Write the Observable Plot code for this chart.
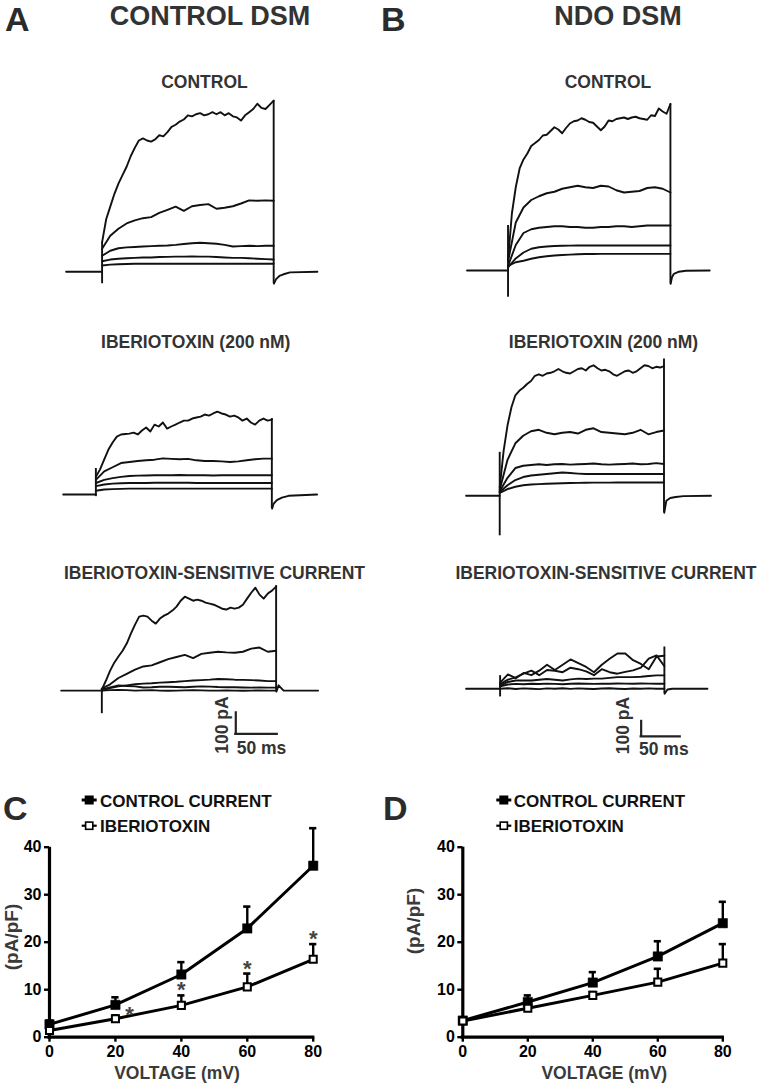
<!DOCTYPE html>
<html><head><meta charset="utf-8">
<script src="https://cdn.jsdelivr.net/npm/d3@7"></script>
<script src="https://cdn.jsdelivr.net/npm/@observablehq/plot@0.6"></script>
<style>
html,body{margin:0;padding:0;background:#fff;}
#fig{position:relative;width:766px;height:1086px;overflow:hidden;background:#fff;}
#fig svg{position:absolute;overflow:visible;}
</style></head><body><div id="fig"></div>
<script>
// ---------------- DATA ----------------
const STEP_MS = 210;                       // duration of the voltage step (ms)
const tFine = d3.range(0, 211, 5);         // sample times (ms) for the largest traces
const tCoarse = d3.range(0, 211, 10);      // sample times (ms) for the smaller traces
const SCALE_PA = 100, SCALE_MS = 50;       // scale bar sizes
const scaleBarText = ["100 pA", "50 ms"];

// Panel A, control DSM — whole-cell currents (pA)
const aCtrl1 = [140,250,310,370,420,460,500,550,590,625,635,625,620,630,650,645,665,690,700,715,725,745,740,750,755,745,750,760,750,760,745,755,740,735,720,745,760,775,800,780,775,795,815];
const aCtrl2 = [110,171,205,230,245,255,260,280,295,310,290,312,318,322,300,305,312,325,340,338,340,338];
const aCtrl3 = [76,100,112,116,118,120,122,124,125,128,132,136,138,136,133,128,120,122,124,122,124,124];
const aCtrl4 = [50,58,62,64,66,68,68,70,71,72,72,73,72,72,70,68,66,66,64,62,60,58];
const aCtrl5 = [30,34,36,37,38,38,38,38,38,38,38,38,38,38,38,38,38,38,38,38,38,38];
const aCtrlEdges = [-57, 140, -57, 815];   // onset low/high, offset low/high
const aCtrlTailT = [210.3, 213, 217, 222, 230, 263.5];
const aCtrlTailI = [-57, -35, -20, -12, -3, 0];

const aIbtx1 = [84,120,167,214,248,276,286,288,290,295,286,305,319,300,333,324,343,314,324,333,343,352,352,362,367,371,381,376,386,395,386,381,371,376,367,352,362,343,333,352,362,352,357];
const aIbtx2 = [70,110,130,150,155,160,163,166,172,170,168,170,163,160,160,158,155,158,163,168,171,171];
const aIbtx3 = [55,70,78,84,88,90,91,92,92,92,93,92,92,92,91,92,92,92,92,92,92,92];
const aIbtx4 = [40,48,52,54,55,55,55,56,56,56,56,56,55,55,55,55,55,55,55,55,55,55];
const aIbtx5 = [18,24,26,27,28,28,28,28,28,28,28,28,28,28,28,28,28,28,28,28,28,28];
const aIbtxEdges = [-10, 124, -67, 362];
const aIbtxTailT = [210.3, 212, 216, 222, 230, 264];
const aIbtxTailI = [-67, -45, -27, -15, -6, 0];

const aDiff1 = [5,48,95,133,162,190,224,271,314,352,357,352,333,319,343,357,367,381,400,428,447,438,428,433,428,419,414,409,400,390,386,395,390,395,409,438,466,490,457,438,462,476,495];
const aDiff2 = [10,30,60,80,100,115,120,135,150,160,170,155,175,180,185,182,180,185,200,205,185,190];
const aDiff3 = [0,12,20,25,30,33,35,38,40,42,45,48,50,52,55,54,52,51,50,48,45,45];
const aDiff4 = [5,15,25,22,20,15,16,18,18,17,16,18,20,19,17,16,16,15,14,15,14,14];
const aDiff5 = [0,2,3,2,0,1,2,0,-1,0,1,2,1,0,0,1,0,-1,0,1,0,0];
const aDiffEdges = [-110, 10, -5, 500];
const aDiffTailT = [210.3, 213, 219, 260.6];
const aDiffTailI = [-5, 25, 0, 0];

// Panel B, NDO DSM
const bCtrl1 = [67,380,555,680,740,780,830,850,870,900,905,930,955,940,915,950,980,995,1000,1015,1005,990,985,960,935,960,1000,995,1010,1015,1020,1010,1020,1025,1015,1010,1005,1035,1030,1080,1060,1045,1110];
const bCtrl2 = [60,320,420,470,495,515,525,545,555,565,555,550,565,560,535,520,525,530,550,555,545,520];
const bCtrl3 = [30,170,250,275,285,290,295,295,290,290,285,285,290,290,295,295,290,295,300,300,300,300];
const bCtrl4 = [20,80,120,145,155,160,163,165,166,167,167,167,167,167,167,167,167,167,167,167,167,167];
const bCtrl5 = [30,55,65,78,88,95,100,103,106,108,110,110,111,111,111,111,111,111,111,111,111,111];
const bCtrlEdges = [-178, 300, -89, 1110];
const bCtrlTailT = [210.3, 212, 214.5, 221, 230, 260.8];
const bCtrlTailI = [-89, -45, -22, -8, -2, 0];

const bIbtx1 = [55,300,470,590,670,700,720,745,765,800,810,800,815,820,830,845,830,820,815,830,845,850,835,860,870,850,835,840,830,810,800,815,830,835,820,830,850,870,865,850,860,855,865];
const bIbtx2 = [40,240,350,400,430,440,420,410,420,425,415,440,450,425,420,415,410,420,440,410,425,435];
const bIbtx3 = [30,120,185,200,205,210,205,210,212,208,210,212,215,210,208,210,212,215,210,212,218,212];
const bIbtx4 = [25,70,105,125,135,140,145,150,155,152,148,145,145,145,145,145,145,145,145,145,145,145];
const bIbtx5 = [20,45,60,70,75,78,80,82,84,85,86,87,88,88,88,89,89,89,89,89,89,89];
const bIbtxEdges = [-267, 290, -113, 912];
const bIbtxTailT = [210.3, 213, 218, 225, 235, 270];
const bIbtxTailI = [-113, -33, -15, -8, -2, 0];

const bDiff1 = [40,95,70,105,90,120,160,125,160,195,170,145,110,160,200,235,235,190,165,130,215,220];
const bDiff2 = [30,60,75,100,120,90,125,120,110,140,130,115,90,130,110,100,112,122,140,200,222,150];
const bDiff3 = [20,45,55,55,55,60,65,60,55,62,67,65,67,67,72,77,77,77,80,85,89,89];
const bDiff4 = [15,28,32,30,33,31,34,32,30,33,35,33,32,34,33,35,34,33,35,34,33,33];
const bDiff5 = [0,3,-2,2,0,-3,2,0,3,-1,2,0,-2,1,3,0,-2,1,0,2,0,0];
const bDiffEdges = [-55, 87, -33, 278];
const bDiffTailT = [210.3, 214, 220, 265];
const bDiffTailI = [-33, -5, 0, 0];

// Panels C and D — current density (pA/pF) vs voltage (mV), mean and SEM
const voltage = [0, 20, 40, 60, 80];
const xTicks = [0, 20, 40, 60, 80];
const yTicks = [0, 10, 20, 30, 40];
const cCtrlMean = [2.7, 6.8, 13.2, 22.9, 36.1];
const cCtrlSem  = [0.8, 1.6, 2.6, 4.6, 7.9];
const cIbtxMean = [1.4, 3.9, 6.7, 10.6, 16.4];
const cIbtxSem  = [0.6, 0.7, 2.1, 2.8, 3.2];
const cSig      = ["", "*", "*", "*", "*"];
const dCtrlMean = [3.5, 7.4, 11.5, 17.0, 24.0];
const dCtrlSem  = [0.6, 1.4, 2.2, 3.2, 4.5];
const dIbtxMean = [3.4, 6.1, 8.8, 11.6, 15.6];
const dIbtxSem  = [0.5, 0.6, 0.7, 2.8, 4.0];
const dSig      = ["", "", "", "", ""];
const legendLabels = ["CONTROL CURRENT", "IBERIOTOXIN"];

// ---------------- LAYOUT / STYLE ----------------
const FONT = '"Liberation Sans", Arial, Helvetica, sans-serif';
const INK = "#111";
const SW = 1.9;
const KY_A = 0.21, KY_B = 0.15;   // px per pA
const fig = document.getElementById("fig");

function place(el, left, top) {
  el.style.position = "absolute";
  el.style.left = left + "px";
  el.style.top = top + "px";
  fig.appendChild(el);
}

function tracePanel(p) {
  const kx = (p.endPx - p.onsetPx) / STEP_MS;
  const rows = [];
  p.traces.forEach((vals, k) => {
    const ts = vals.length === tFine.length ? tFine : tCoarse;
    vals.forEach((v, j) => rows.push({trace: k, t: ts[j], i: v}));
  });
  const base = [{t: p.preT, i: 0}, {t: 0, i: 0}];
  const tail = p.tailT.map((t, j) => ({t, i: p.tailI[j]}));
  const allI = rows.map(d => d.i).concat(p.edges, p.tailI);
  let lo = d3.min(allI) - 10, hi = d3.max(allI) + 10;
  if (p.scaleBar) lo = Math.min(lo, p.scaleBar.i0 - 10);
  const x0 = p.preT - 2, x1 = d3.max(p.tailT) + 2;
  const width = (x1 - x0) * kx, height = (hi - lo) * p.ky;
  const marks = [
    Plot.line(base, {x: "t", y: "i", stroke: INK, strokeWidth: SW}),
    Plot.line(tail, {x: "t", y: "i", stroke: INK, strokeWidth: SW}),
    Plot.ruleX([0], {y1: p.edges[0], y2: p.edges[1], stroke: INK, strokeWidth: SW}),
    Plot.ruleX([STEP_MS], {y1: p.edges[2], y2: p.edges[3], stroke: INK, strokeWidth: SW}),
    Plot.line(rows, {x: "t", y: "i", z: "trace", stroke: INK, strokeWidth: SW, strokeLinejoin: "round"})
  ];
  if (p.scaleBar) {
    const sb = [p.scaleBar];
    marks.push(Plot.ruleX(sb, {x: "t0", y1: "i0", y2: d => d.i0 + SCALE_PA, stroke: "#222", strokeWidth: 2.2, strokeLinecap: "square"}));
    marks.push(Plot.ruleY(sb, {y: "i0", x1: "t0", x2: d => d.t0 + SCALE_MS, stroke: "#222", strokeWidth: 2.2, strokeLinecap: "square"}));
  }
  const svg = Plot.plot({
    width, height, margin: 0,
    x: {domain: [x0, x1], axis: null},
    y: {domain: [lo, hi], axis: null},
    style: {overflow: "visible", background: "transparent"},
    marks
  });
  place(svg, p.onsetPx + x0 * kx, p.basePx - hi * p.ky);
}

const panels = [
  {onsetPx: 101.7, endPx: 273.3, basePx: 271,   ky: KY_A, preT: -44, traces: [aCtrl1, aCtrl2, aCtrl3, aCtrl4, aCtrl5], edges: aCtrlEdges, tailT: aCtrlTailT, tailI: aCtrlTailI},
  {onsetPx: 95.7,  endPx: 271.7, basePx: 494.3, ky: KY_A, preT: -39, traces: [aIbtx1, aIbtx2, aIbtx3, aIbtx4, aIbtx5], edges: aIbtxEdges, tailT: aIbtxTailT, tailI: aIbtxTailI},
  {onsetPx: 101.7, endPx: 276,   basePx: 690,   ky: KY_A, preT: -49, traces: [aDiff1, aDiff2, aDiff3, aDiff4, aDiff5], edges: aDiffEdges, tailT: aDiffTailT, tailI: aDiffTailI, scaleBar: {t0: 161.4, i0: -206}},
  {onsetPx: 507.3, endPx: 669.7, basePx: 270,   ky: KY_B, preT: -53, traces: [bCtrl1, bCtrl2, bCtrl3, bCtrl4, bCtrl5], edges: bCtrlEdges, tailT: bCtrlTailT, tailI: bCtrlTailI},
  {onsetPx: 499.7, endPx: 664,   basePx: 495,   ky: KY_B, preT: -43, traces: [bIbtx1, bIbtx2, bIbtx3, bIbtx4, bIbtx5], edges: bIbtxEdges, tailT: bIbtxTailT, tailI: bIbtxTailI},
  {onsetPx: 499.7, endPx: 664,   basePx: 688.3, ky: KY_B, preT: -43.5, traces: [bDiff1, bDiff2, bDiff3, bDiff4, bDiff5], edges: bDiffEdges, tailT: bDiffTailT, tailI: bDiffTailI, scaleBar: {t0: 180.3, i0: -318}}
];
panels.forEach(tracePanel);

function ivPlot(cfg) {
  const rows = voltage.map((v, k) => ({
    v, ctrl: cfg.ctrl[k], ctrlSem: cfg.ctrlSem[k], ibtx: cfg.ibtx[k], ibtxSem: cfg.ibtxSem[k], sig: cfg.sig[k]
  }));
  const width = cfg.width, height = 286;
  const svg = Plot.plot({
    width, height,
    marginLeft: cfg.x0Px - cfg.left, marginRight: width - (cfg.x80Px - cfg.left),
    marginTop: 846.7 - 800, marginBottom: 1086 - 1036.7,
    x: {domain: [0, 80], axis: null},
    y: {domain: [0, 40], axis: null},
    style: {overflow: "visible", background: "transparent", fontFamily: FONT, fontWeight: "bold", fontSize: "16px", color: "#000"},
    marks: [
      Plot.axisY({ticks: yTicks, tickSize: 5, tickPadding: 3, strokeWidth: 2.4, label: null, tickFormat: d => String(d)}),
      Plot.axisX({ticks: xTicks, tickSize: 5, tickPadding: 3, strokeWidth: 2.4, label: null, tickFormat: d => String(d)}),
      Plot.ruleX([0], {stroke: "#000", strokeWidth: 3.2}),
      Plot.ruleY([0], {stroke: "#000", strokeWidth: 3.2, strokeLinecap: "square"}),
      Plot.ruleX(rows, {x: "v", y1: "ctrl", y2: d => d.ctrl + d.ctrlSem, stroke: "#000", strokeWidth: 2.4}),
      Plot.ruleY(rows, {y: d => d.ctrl + d.ctrlSem, x1: d => d.v - 1.1, x2: d => d.v + 1.1, stroke: "#000", strokeWidth: 2.6}),
      Plot.ruleX(rows, {x: "v", y1: "ibtx", y2: d => d.ibtx + d.ibtxSem, stroke: "#000", strokeWidth: 2.4}),
      Plot.ruleY(rows, {y: d => d.ibtx + d.ibtxSem, x1: d => d.v - 1.1, x2: d => d.v + 1.1, stroke: "#000", strokeWidth: 2.6}),
      Plot.line(rows, {x: "v", y: "ctrl", stroke: "#000", strokeWidth: 3}),
      Plot.line(rows, {x: "v", y: "ibtx", stroke: "#000", strokeWidth: 3}),
      Plot.dot(rows, {x: "v", y: "ctrl", symbol: "square", r: 5.3, fill: "#000", stroke: "#000", strokeWidth: 0.5}),
      Plot.dot(rows, {x: "v", y: "ibtx", symbol: "square", r: 4.0, fill: "#fff", stroke: "#000", strokeWidth: 2}),
      Plot.text(rows.filter(d => d.sig && d.v === 20), {x: "v", y: "ibtx", text: "sig", dx: 14, dy: -4, fontSize: 22, fill: "#444"}),
      Plot.text(rows.filter(d => d.sig && d.v > 20), {x: "v", y: d => d.ibtx + d.ibtxSem, text: "sig", dy: -5, fontSize: 22, fill: "#444"})
    ]
  });
  place(svg, cfg.left, 800);
}
ivPlot({left: 0, width: 340, x0Px: 49, x80Px: 312.7, ctrl: cCtrlMean, ctrlSem: cCtrlSem, ibtx: cIbtxMean, ibtxSem: cIbtxSem, sig: cSig});
ivPlot({left: 383, width: 383, x0Px: 462.3, x80Px: 722.3, ctrl: dCtrlMean, ctrlSem: dCtrlSem, ibtx: dIbtxMean, ibtxSem: dIbtxSem, sig: dSig});

// ---------------- TEXT OVERLAY ----------------
const overlay = d3.create("svg").attr("width", 766).attr("height", 1086)
  .style("left", "0px").style("top", "0px").style("pointer-events", "none")
  .attr("font-family", FONT).attr("font-weight", "bold");
const labels = [
  {text: "A", x: 5, y: 31, size: 34, anchor: "start", fill: "#2b2b2b"},
  {text: "B", x: 381, y: 31, size: 34, anchor: "start", fill: "#2b2b2b"},
  {text: "C", x: 3, y: 819.5, size: 34, anchor: "start", fill: "#2b2b2b"},
  {text: "D", x: 383, y: 819.5, size: 34, anchor: "start", fill: "#2b2b2b"},
  {text: "CONTROL DSM", x: 210, y: 24.5, size: 27},
  {text: "NDO DSM", x: 618, y: 24.5, size: 27},
  {text: "CONTROL", x: 204.5, y: 88, size: 17.5},
  {text: "CONTROL", x: 608, y: 88, size: 17.5},
  {text: "IBERIOTOXIN (200 nM)", x: 195.7, y: 348, size: 17.5},
  {text: "IBERIOTOXIN (200 nM)", x: 603.5, y: 348, size: 17.5},
  {text: "IBERIOTOXIN-SENSITIVE CURRENT", x: 214.5, y: 579, size: 17.5},
  {text: "IBERIOTOXIN-SENSITIVE CURRENT", x: 606, y: 579, size: 17.5},
  {text: scaleBarText[1], x: 236.7, y: 754, size: 17.5, anchor: "start"},
  {text: scaleBarText[1], x: 639, y: 755, size: 17.5, anchor: "start"},
  {text: scaleBarText[0], x: 227.5, y: 725, size: 17.5, rotate: true},
  {text: scaleBarText[0], x: 628.5, y: 725.5, size: 17.5, rotate: true},
  {text: legendLabels[0], x: 100, y: 806.7, size: 17, anchor: "start", fill: "#111"},
  {text: legendLabels[1], x: 100, y: 831.7, size: 17, anchor: "start", fill: "#111"},
  {text: legendLabels[0], x: 513.7, y: 806.7, size: 17, anchor: "start", fill: "#111"},
  {text: legendLabels[1], x: 513.7, y: 831.7, size: 17, anchor: "start", fill: "#111"},
  {text: "VOLTAGE (mV)", x: 177, y: 1078.5, size: 17.5, fill: "#3a3a3a"},
  {text: "VOLTAGE (mV)", x: 604.3, y: 1078.5, size: 17.5, fill: "#3a3a3a"},
  {text: "(pA/pF)", x: 17.5, y: 937, size: 19, rotate: true, fill: "#3a3a3a"},
  {text: "(pA/pF)", x: 419.5, y: 921, size: 19, rotate: true, fill: "#3a3a3a"}
];
labels.forEach(l => {
  const t = overlay.append("text").text(l.text)
    .attr("font-size", l.size).attr("fill", l.fill || "#333")
    .attr("text-anchor", l.anchor || "middle");
  if (l.rotate) t.attr("transform", `translate(${l.x},${l.y}) rotate(-90)`);
  else t.attr("x", l.x).attr("y", l.y);
});
// legend symbols
[89.2, 503.8].forEach(cx => {
  const g = overlay.append("g");
  g.append("line").attr("x1", cx - 7.5).attr("x2", cx + 7.5).attr("y1", 800).attr("y2", 800).attr("stroke", "#000").attr("stroke-width", 3);
  g.append("rect").attr("x", cx - 4.5).attr("y", 795.5).attr("width", 9).attr("height", 9).attr("fill", "#000");
  g.append("line").attr("x1", cx - 7.5).attr("x2", cx + 7.5).attr("y1", 825.7).attr("y2", 825.7).attr("stroke", "#000").attr("stroke-width", 2.2);
  g.append("rect").attr("x", cx - 3.6).attr("y", 822.1).attr("width", 7.2).attr("height", 7.2).attr("fill", "#fff").attr("stroke", "#000").attr("stroke-width", 1.6);
});
fig.appendChild(overlay.node());
</script></body></html>
